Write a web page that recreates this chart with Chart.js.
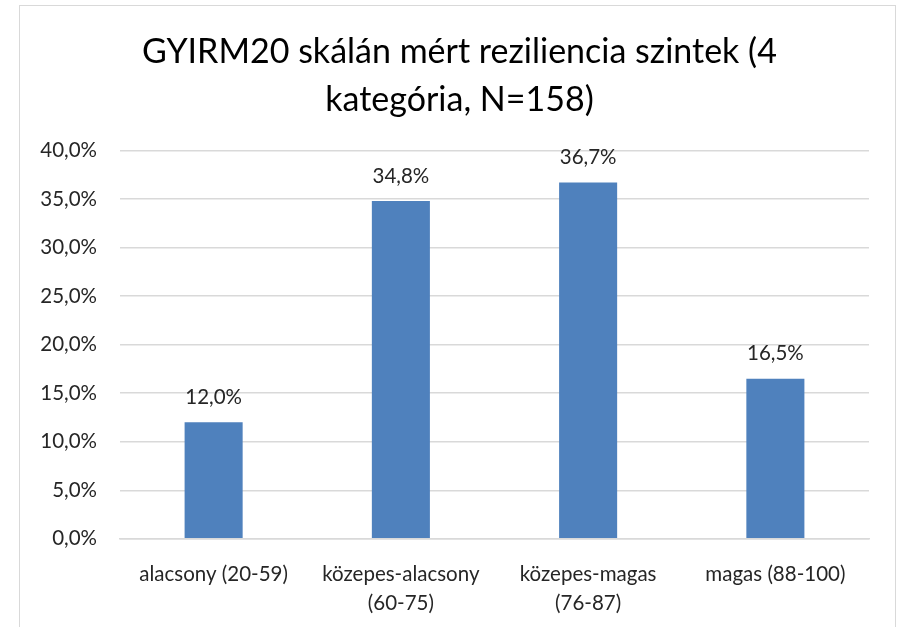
<!DOCTYPE html>
<html><head><meta charset="utf-8">
<script src="https://cdn.jsdelivr.net/npm/chart.js@4/dist/chart.umd.min.js"></script>
<style>
html,body{margin:0;padding:0;background:#fff;}
#frame{position:absolute;left:19px;top:5px;width:877px;height:660px;border:1.5px solid #d9d9d9;box-sizing:border-box;}
#wrap{position:absolute;left:0;top:0;width:902px;height:627px;}
</style></head>
<body>
<div id="frame"></div>
<div id="wrap"><canvas id="c" width="902" height="627"></canvas></div>
<script>
const categories = [["alacsony (20-59)"], ["közepes-alacsony", "(60-75)"], ["közepes-magas", "(76-87)"], ["magas (88-100)"]];
const values = [12.0, 34.8, 36.7, 16.5];
const titleLines = ["GYIRM20 skálán mért reziliencia szintek (4", "kategória, N=158)"];
const yMin = 0, yMax = 40, yStep = 5;

const FONT = "Lato, 'Open Sans', sans-serif";
const fmt = v => v.toFixed(1).replace('.', ',') + '%';

const labelPlugin = {
  id: 'barLabels',
  afterLayout(chart) {
    const t = chart.titleBlock;
    if (t) { t.left += 10; t.right += 10; }
  },
  afterDatasetsDraw(chart) {
    const ctx = chart.ctx;
    const meta = chart.getDatasetMeta(0);
    ctx.save();
    ctx.font = "20.5px " + FONT;
    ctx.fillStyle = '#262626';
    ctx.textAlign = 'center';
    ctx.textBaseline = 'middle';
    meta.data.forEach((bar, i) => {
      ctx.fillText(fmt(values[i]), bar.x, bar.y - 25);
    });
    ctx.restore();
  }
};

new Chart(document.getElementById('c'), {
  type: 'bar',
  data: {
    labels: categories,
    datasets: [{
      data: values,
      backgroundColor: '#4F81BD',
      borderWidth: 0,
      barPercentage: 0.31,
      categoryPercentage: 1.0
    }]
  },
  options: {
    responsive: false,
    animation: false,
    devicePixelRatio: 1,
    layout: { padding: { left: 30, right: 33, top: 10, bottom: -12 } },
    plugins: {
      legend: { display: false },
      tooltip: { enabled: false },
      title: {
        display: true,
        text: titleLines,
        color: '#000',
        font: { family: FONT, size: 34, weight: 'normal', lineHeight: 1.42 },
        padding: { top: 18, bottom: 26 }
      }
    },
    scales: {
      x: {
        grid: { display: false, drawTicks: false },
        border: { display: true, color: '#d9d9d9', width: 1.5 },
        ticks: { color: '#262626', font: { family: FONT, size: 20.5, lineHeight: 1.42 }, padding: 21, maxRotation: 0, autoSkip: false }
      },
      y: {
        min: yMin, max: yMax,
        afterFit: s => { s.width = 90; },
        grid: { color: '#d9d9d9', lineWidth: 1.5, drawTicks: false },
        border: { display: false },
        ticks: { stepSize: yStep, color: '#262626', font: { family: FONT, size: 20.5 }, padding: 23, callback: v => fmt(v) }
      }
    }
  },
  plugins: [labelPlugin]
});
</script>
</body></html>
